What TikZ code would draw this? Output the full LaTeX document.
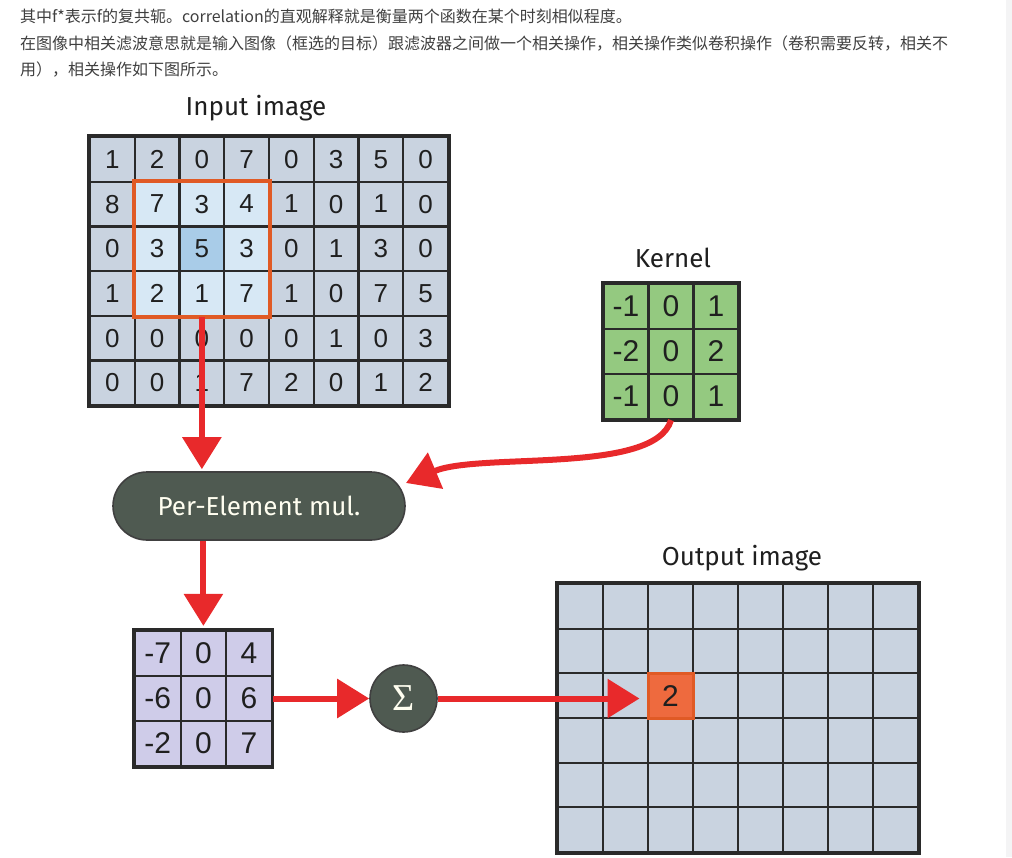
\documentclass[tikz,border=0pt]{standalone}
\usepackage{fontspec}
\setmainfont{Liberation Sans}
\newfontfamily\cjk{Noto Sans CJK SC}
\newfontfamily\titlefont{Fira Sans}
\newfontfamily\sigmafont{Liberation Serif}
\usetikzlibrary{arrows.meta}

\definecolor{gridblue}{HTML}{C9D3E0}
\definecolor{winblue}{HTML}{D7E8F5}
\definecolor{centerblue}{HTML}{A9CCE8}
\definecolor{kerngreen}{HTML}{94C980}
\definecolor{prodlila}{HTML}{CFCCE9}
\definecolor{gridline}{HTML}{2A2A2A}
\definecolor{darkbox}{HTML}{4F5A51}
\definecolor{arrowred}{HTML}{E8292B}
\definecolor{frameorange}{HTML}{E05A25}
\definecolor{hlorange}{HTML}{EE6A3E}
\definecolor{pagegrey}{HTML}{F4F4F5}
\definecolor{cjkgrey}{HTML}{3F3F3F}

\tikzset{
	cell/.style={draw=gridline, line width=2.2pt, inner sep=0pt,
		minimum width=44.75pt, minimum height=44.7pt, text=black!88,
		font=\fontsize{26}{26}\selectfont},
	bigcell/.style={cell, minimum width=45pt, minimum height=45pt,
		font=\fontsize{30}{30}\selectfont},
	title/.style={font=\titlefont\fontsize{26}{26}\selectfont, text=black!88},
	cjktext/.style={anchor=base west, inner sep=0pt, text=cjkgrey,
		font=\cjk\fontsize{16}{16}\selectfont},
	darkshape/.style={fill=darkbox, draw=black!75, line width=1.6pt,
		text=white!94!yellow},
	redarrow/.style={draw=arrowred, line width=6pt,
		-{Triangle[length=32pt,width=38pt]}}
}

\begin{document}
\begin{tikzpicture}[x=1pt, y=-1pt]
	\useasboundingbox (0,0) rectangle (1012,857);
	% Rand rechts
	\fill[pagegrey] (1006,0) rectangle (1012,857);

	% Text oben
	\node[cjktext] (line1) at (20,22) {其中f*表示f的复共轭。correlation的直观解释就是衡量两个函数在某个时刻相似程度。};
	\node[cjktext] (line2) at (20,49) {在图像中相关滤波意思就是输入图像（框选的目标）跟滤波器之间做一个相关操作，相关操作类似卷积操作（卷积需要反转，相关不};
	\node[cjktext] (line3) at (20,75) {用），相关操作如下图所示。};

	% Eingabebild
	\node[title] (intitle) at (256,108) {Input image};
	\foreach \row [count=\r from 0] in {{1,2,0,7,0,3,5,0},{8,7,3,4,1,0,1,0},
		{0,3,5,3,0,1,3,0},{1,2,1,7,1,0,7,5},{0,0,0,0,0,1,0,3},{0,0,1,7,2,0,1,2}}
		\foreach \v [count=\c from 0] in \row {
			\def\cellfill{gridblue}
			\ifnum\r>0 \ifnum\r<4 \ifnum\c>0 \ifnum\c<4 \def\cellfill{winblue}\fi\fi\fi\fi
			\ifnum\r=2 \ifnum\c=2 \def\cellfill{centerblue}\fi\fi
			\node[cell, fill=\cellfill] (in-\r-\c) at ({90+44.75*(\c+0.5)}, {137+44.7*(\r+0.5)}) {\v};
		}
	\draw[gridline, line width=3pt] (in-0-0.north west) rectangle (in-5-7.south east);
	% Fenster
	\draw[frameorange, line width=4pt] (in-1-1.north west) rectangle (in-3-3.south east);

	% Kernel
	\node[title] (kerntitle) at (673,258) {Kernel};
	\foreach \row [count=\r from 0] in {{-1,0,1},{-2,0,2},{-1,0,1}}
		\foreach \v [count=\c from 0] in \row {
			\node[bigcell, fill=kerngreen] (k-\r-\c) at ({603.5+45*(\c+0.5)}, {284+45*(\r+0.5)}) {\v};
		}
	\draw[gridline, line width=3pt] (k-0-0.north west) rectangle (k-2-2.south east);

	% Multiplikation
	\node[darkshape, rounded corners=34pt, minimum width=292pt, minimum height=68pt,
		font=\titlefont\fontsize{26}{26}\selectfont] (pem) at (259,506) {Per-Element mul.};
	\coordinate (pemin) at (406,483);

	% Produkt
	\foreach \row [count=\r from 0] in {{-7,0,4},{-6,0,6},{-2,0,7}}
		\foreach \v [count=\c from 0] in \row {
			\node[bigcell, fill=prodlila, minimum width=45.6pt] (p-\r-\c) at ({135+45.6*(\c+0.5)}, {631+45*(\r+0.5)}) {\v};
		}
	\draw[gridline, line width=3pt] (p-0-0.north west) rectangle (p-2-2.south east);

	% Summe
	\node[darkshape, circle, minimum size=67pt, inner sep=0pt,
		font=\sigmafont\fontsize{38}{38}\selectfont] (sigma) at (403.5,698.5) {Σ};

	% Ausgabebild
	\node[title] (outtitle) at (742,558) {Output image};
	\foreach \r in {0,...,5}
		\foreach \c in {0,...,7} {
			\node[cell, fill=gridblue, minimum width=45pt, minimum height=44.67pt] (out-\r-\c) at ({558+45*(\c+0.5)}, {584+44.67*(\r+0.5)}) {};
		}
	\draw[gridline, line width=3pt] (out-0-0.north west) rectangle (out-5-7.south east);
	\node[bigcell, fill=hlorange, draw=frameorange, line width=3pt] (outval) at (out-2-2) {2};

	% Pfeile
	\draw[redarrow, shorten >=2pt] (in-3-2.south) -- (in-3-2.south |- pem.north);
	\draw[redarrow] (k-2-1.south) .. controls (655,475) and (480,452) .. (pemin);
	\draw[redarrow, shorten >=4pt] (pem.south -| p-0-1.north) -- (p-0-1.north);
	\draw[redarrow] (p-1-2.east) -- (sigma.west);
	\draw[redarrow, shorten >=7pt] (sigma.east) -- (sigma.east -| outval.west);
\end{tikzpicture}
\end{document}
